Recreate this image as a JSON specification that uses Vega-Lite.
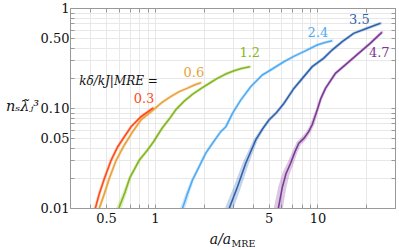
{
  "$schema": "https://vega.github.io/schema/vega-lite/v6.json",
  "width": 325,
  "height": 200,
  "autosize": "none",
  "padding": {"left": 70, "top": 8, "right": 4, "bottom": 42},
  "config": {"view": {"stroke": null}, "font": "DejaVu Serif"},
  "datasets": {
    "curves": [
      {"k": "0.3", "x": 0.41, "y": 0.009, "err": 3},
      {"k": "0.3", "x": 0.43, "y": 0.01, "err": 3},
      {"k": "0.3", "x": 0.455, "y": 0.014, "err": 3},
      {"k": "0.3", "x": 0.489, "y": 0.0198, "err": 3},
      {"k": "0.3", "x": 0.537, "y": 0.03, "err": 3},
      {"k": "0.3", "x": 0.59, "y": 0.041, "err": 3},
      {"k": "0.3", "x": 0.648, "y": 0.0516, "err": 3},
      {"k": "0.3", "x": 0.713, "y": 0.065, "err": 3},
      {"k": "0.3", "x": 0.82, "y": 0.0818, "err": 3},
      {"k": "0.3", "x": 0.976, "y": 0.1, "err": 3},
      {"k": "0.6", "x": 0.44, "y": 0.009, "err": 3},
      {"k": "0.6", "x": 0.455, "y": 0.01, "err": 3},
      {"k": "0.6", "x": 0.489, "y": 0.014, "err": 3},
      {"k": "0.6", "x": 0.524, "y": 0.0198, "err": 3},
      {"k": "0.6", "x": 0.577, "y": 0.03, "err": 3},
      {"k": "0.6", "x": 0.648, "y": 0.0427, "err": 3},
      {"k": "0.6", "x": 0.73, "y": 0.058, "err": 3},
      {"k": "0.6", "x": 0.82, "y": 0.076, "err": 3},
      {"k": "0.6", "x": 0.976, "y": 0.0955, "err": 3},
      {"k": "0.6", "x": 1.1, "y": 0.113, "err": 3},
      {"k": "0.6", "x": 1.25, "y": 0.13, "err": 3},
      {"k": "0.6", "x": 1.4, "y": 0.145, "err": 3},
      {"k": "0.6", "x": 1.587, "y": 0.158, "err": 3},
      {"k": "0.6", "x": 1.75, "y": 0.17, "err": 3},
      {"k": "0.6", "x": 1.915, "y": 0.179, "err": 3},
      {"k": "1.2", "x": 0.58, "y": 0.009, "err": 5},
      {"k": "1.2", "x": 0.6, "y": 0.01, "err": 5},
      {"k": "1.2", "x": 0.65, "y": 0.014, "err": 4},
      {"k": "1.2", "x": 0.7, "y": 0.02, "err": 3},
      {"k": "1.2", "x": 0.8, "y": 0.03, "err": 3},
      {"k": "1.2", "x": 0.9, "y": 0.038, "err": 3},
      {"k": "1.2", "x": 0.98, "y": 0.046, "err": 3},
      {"k": "1.2", "x": 1.1, "y": 0.062, "err": 3},
      {"k": "1.2", "x": 1.22, "y": 0.077, "err": 3},
      {"k": "1.2", "x": 1.35, "y": 0.097, "err": 3},
      {"k": "1.2", "x": 1.513, "y": 0.117, "err": 3},
      {"k": "1.2", "x": 1.7, "y": 0.137, "err": 3},
      {"k": "1.2", "x": 1.915, "y": 0.156, "err": 3},
      {"k": "1.2", "x": 2.2, "y": 0.18, "err": 3},
      {"k": "1.2", "x": 2.42, "y": 0.198, "err": 3},
      {"k": "1.2", "x": 2.75, "y": 0.22, "err": 3},
      {"k": "1.2", "x": 3.07, "y": 0.236, "err": 3},
      {"k": "1.2", "x": 3.4, "y": 0.248, "err": 3},
      {"k": "1.2", "x": 3.84, "y": 0.258, "err": 3},
      {"k": "2.4", "x": 1.46, "y": 0.009, "err": 5},
      {"k": "2.4", "x": 1.48, "y": 0.01, "err": 5},
      {"k": "2.4", "x": 1.587, "y": 0.014, "err": 4},
      {"k": "2.4", "x": 1.7, "y": 0.019, "err": 3},
      {"k": "2.4", "x": 1.87, "y": 0.0259, "err": 3},
      {"k": "2.4", "x": 2.05, "y": 0.0352, "err": 3},
      {"k": "2.4", "x": 2.26, "y": 0.0444, "err": 3},
      {"k": "2.4", "x": 2.54, "y": 0.058, "err": 3},
      {"k": "2.4", "x": 2.73, "y": 0.065, "err": 3},
      {"k": "2.4", "x": 3.0, "y": 0.0885, "err": 3},
      {"k": "2.4", "x": 3.37, "y": 0.12, "err": 3},
      {"k": "2.4", "x": 3.88, "y": 0.163, "err": 3},
      {"k": "2.4", "x": 4.58, "y": 0.214, "err": 3},
      {"k": "2.4", "x": 5.15, "y": 0.24, "err": 3},
      {"k": "2.4", "x": 6.21, "y": 0.29, "err": 3},
      {"k": "2.4", "x": 7.2, "y": 0.33, "err": 3},
      {"k": "2.4", "x": 8.24, "y": 0.366, "err": 3},
      {"k": "2.4", "x": 9.96, "y": 0.427, "err": 3},
      {"k": "2.4", "x": 11.0, "y": 0.45, "err": 3},
      {"k": "2.4", "x": 12.3, "y": 0.471, "err": 3},
      {"k": "3.5", "x": 2.85, "y": 0.009, "err": 8},
      {"k": "3.5", "x": 2.87, "y": 0.01, "err": 8},
      {"k": "3.5", "x": 3.22, "y": 0.0163, "err": 7},
      {"k": "3.5", "x": 3.62, "y": 0.028, "err": 6},
      {"k": "3.5", "x": 4.17, "y": 0.048, "err": 4},
      {"k": "3.5", "x": 4.6, "y": 0.062, "err": 3},
      {"k": "3.5", "x": 5.03, "y": 0.076, "err": 3},
      {"k": "3.5", "x": 5.6, "y": 0.09, "err": 3},
      {"k": "3.5", "x": 6.21, "y": 0.111, "err": 3},
      {"k": "3.5", "x": 7.16, "y": 0.157, "err": 3},
      {"k": "3.5", "x": 8.24, "y": 0.206, "err": 3},
      {"k": "3.5", "x": 9.28, "y": 0.259, "err": 3},
      {"k": "3.5", "x": 10.9, "y": 0.314, "err": 3},
      {"k": "3.5", "x": 12.3, "y": 0.38, "err": 3},
      {"k": "3.5", "x": 14.2, "y": 0.46, "err": 3},
      {"k": "3.5", "x": 16.7, "y": 0.558, "err": 3},
      {"k": "3.5", "x": 20.2, "y": 0.627, "err": 3},
      {"k": "3.5", "x": 24.4, "y": 0.703, "err": 3},
      {"k": "4.7", "x": 5.7, "y": 0.009, "err": 9},
      {"k": "4.7", "x": 5.75, "y": 0.01, "err": 9},
      {"k": "4.7", "x": 6.07, "y": 0.016, "err": 8},
      {"k": "4.7", "x": 6.4, "y": 0.022, "err": 7},
      {"k": "4.7", "x": 6.83, "y": 0.028, "err": 6},
      {"k": "4.7", "x": 7.3, "y": 0.037, "err": 5},
      {"k": "4.7", "x": 7.68, "y": 0.0444, "err": 5},
      {"k": "4.7", "x": 8.24, "y": 0.0497, "err": 5},
      {"k": "4.7", "x": 8.83, "y": 0.058, "err": 4},
      {"k": "4.7", "x": 9.28, "y": 0.068, "err": 4},
      {"k": "4.7", "x": 9.96, "y": 0.0955, "err": 3},
      {"k": "4.7", "x": 10.5, "y": 0.125, "err": 3},
      {"k": "4.7", "x": 11.2, "y": 0.157, "err": 3},
      {"k": "4.7", "x": 12.9, "y": 0.222, "err": 3},
      {"k": "4.7", "x": 15.2, "y": 0.28, "err": 3},
      {"k": "4.7", "x": 17.9, "y": 0.352, "err": 3},
      {"k": "4.7", "x": 21.1, "y": 0.443, "err": 3},
      {"k": "4.7", "x": 24.9, "y": 0.571, "err": 3}
    ],
    "labels": [
      {"k": "0.3", "x": 0.856, "y": 0.124, "t": "0.3"},
      {"k": "0.6", "x": 1.735, "y": 0.226, "t": "0.6"},
      {"k": "1.2", "x": 3.83, "y": 0.351, "t": "1.2"},
      {"k": "2.4", "x": 10.07, "y": 0.562, "t": "2.4"},
      {"k": "3.5", "x": 18.1, "y": 0.75, "t": "3.5"},
      {"k": "4.7", "x": 24.0, "y": 0.355, "t": "4.7"}
    ],
    "note": [
      {"x": 0.342, "y": 0.185, "t": "kδ/kJ|MRE ="}
    ]
  },
  "layer": [
    {
      "data": {"name": "curves"},
      "mark": {"type": "trail", "opacity": 0.28, "clip": true},
      "encoding": {
        "x": {"field": "x", "type": "quantitative",
          "scale": {"type": "log", "domain": [0.3, 30], "nice": false},
          "axis": {"orient": "top", "values": [0.3,0.4,0.5,0.6,0.7,0.8,0.9,1,2,3,4,5,6,7,8,9,10,20,30],
            "labels": false, "grid": false, "title": null, "domainColor": "#999", "tickColor": "#999", "tickSize": -4}},
        "y": {"field": "y", "type": "quantitative",
          "scale": {"type": "log", "domain": [0.01, 1], "nice": false},
          "axis": {"orient": "right", "values": [0.01,0.02,0.03,0.04,0.05,0.06,0.07,0.08,0.09,0.1,0.2,0.3,0.4,0.5,0.6,0.7,0.8,0.9,1],
            "labels": false, "grid": false, "title": null, "domainColor": "#999", "tickColor": "#999", "tickSize": -4}},
        "color": {"field": "k", "type": "nominal", "legend": null,
          "scale": {"domain": ["0.3","0.6","1.2","2.4","3.5","4.7"],
            "range": ["#ff4d1a","#e9a23b","#84b81e","#52abf2","#2f63ae","#7c3a96"]}},
        "size": {"field": "err", "type": "quantitative", "legend": null,
          "scale": {"type": "linear", "domain": [0, 10], "range": [0, 10], "zero": true}},
        "detail": {"field": "k"}
      }
    },
    {
      "data": {"name": "curves"},
      "mark": {"type": "line", "strokeWidth": 1.6, "clip": true},
      "encoding": {
        "x": {"field": "x", "type": "quantitative",
          "scale": {"type": "log", "domain": [0.3, 30], "nice": false},
          "axis": {"orient": "bottom", "values": [0.3,0.4,0.5,0.6,0.7,0.8,0.9,1,2,3,4,5,6,7,8,9,10,20,30],
            "labelExpr": "datum.value==0.5?'0.5':datum.value==1?'1':datum.value==5?'5':datum.value==10?'10':''",
            "labelOverlap": false, "labelFlush": false,
            "grid": true, "gridColor": "#e8e8e8", "gridWidth": 1,
            "domainColor": "#999", "tickColor": "#999", "tickSize": -4, "labelPadding": 8,
            "labelFont": "DejaVu Serif", "labelFontSize": 13, "labelColor": "#111",
            "title": "a/a", "titleFont": "DejaVu Serif", "titleFontStyle": "italic", "titleFontWeight": "normal",
            "titleFontSize": 14, "titleColor": "#111", "titleX": 150, "titleY": 31, "titleAlign": "center", "titleBaseline": "middle"}},
        "y": {"field": "y", "type": "quantitative",
          "scale": {"type": "log", "domain": [0.01, 1], "nice": false},
          "axis": {"orient": "left", "values": [0.01,0.02,0.03,0.04,0.05,0.06,0.07,0.08,0.09,0.1,0.2,0.3,0.4,0.5,0.6,0.7,0.8,0.9,1],
            "labelExpr": "datum.value==0.01?'0.01':datum.value==0.05?'0.05':datum.value==0.1?'0.10':datum.value==0.5?'0.50':datum.value==1?'1':''",
            "labelOverlap": false, "labelFlush": false,
            "grid": true, "gridColor": "#e8e8e8", "gridWidth": 1,
            "domainColor": "#999", "tickColor": "#999", "tickSize": -4, "labelPadding": 5,
            "labelFont": "DejaVu Serif", "labelFontSize": 13, "labelColor": "#111",
            "title": "nₛλ̃ⱼ³", "titleFont": "DejaVu Serif", "titleFontStyle": "italic", "titleFontWeight": "normal",
            "titleFontSize": 14.5, "titleColor": "#111", "titleAngle": 0, "titleX": -48, "titleY": 98, "titleAlign": "center", "titleBaseline": "middle"}},
        "color": {"field": "k", "type": "nominal", "legend": null,
          "scale": {"domain": ["0.3","0.6","1.2","2.4","3.5","4.7"],
            "range": ["#ff4d1a","#e9a23b","#84b81e","#52abf2","#2f63ae","#7c3a96"]}}
      }
    },
    {
      "data": {"name": "labels"},
      "mark": {"type": "text", "font": "DejaVu Serif", "fontSize": 13, "align": "center", "baseline": "middle"},
      "encoding": {
        "x": {"field": "x", "type": "quantitative", "scale": {"type": "log", "domain": [0.3, 30], "nice": false}, "axis": null},
        "y": {"field": "y", "type": "quantitative", "scale": {"type": "log", "domain": [0.01, 1], "nice": false}, "axis": null},
        "text": {"field": "t"},
        "color": {"field": "k", "type": "nominal", "legend": null,
          "scale": {"domain": ["0.3","0.6","1.2","2.4","3.5","4.7"],
            "range": ["#ff4d1a","#e9a23b","#84b81e","#52abf2","#2f63ae","#7c3a96"]}}
      }
    },
    {
      "data": {"name": "note"},
      "mark": {"type": "text", "font": "DejaVu Serif", "fontSize": 12, "fontStyle": "italic", "align": "left", "baseline": "middle", "color": "#111"},
      "encoding": {
        "x": {"field": "x", "type": "quantitative", "scale": {"type": "log", "domain": [0.3, 30], "nice": false},
          "axis": {"orient": "bottom", "domain": false, "ticks": false, "labels": false, "grid": false,
            "title": "MRE", "titleFont": "DejaVu Serif", "titleFontWeight": "normal", "titleFontSize": 9.5, "titleColor": "#111",
            "titleX": 173, "titleY": 35, "titleAlign": "center", "titleBaseline": "middle"}},
        "y": {"field": "y", "type": "quantitative", "scale": {"type": "log", "domain": [0.01, 1], "nice": false}, "axis": null},
        "text": {"field": "t"}
      }
    }
  ],
  "resolve": {"axis": {"x": "independent", "y": "independent"}}
}
